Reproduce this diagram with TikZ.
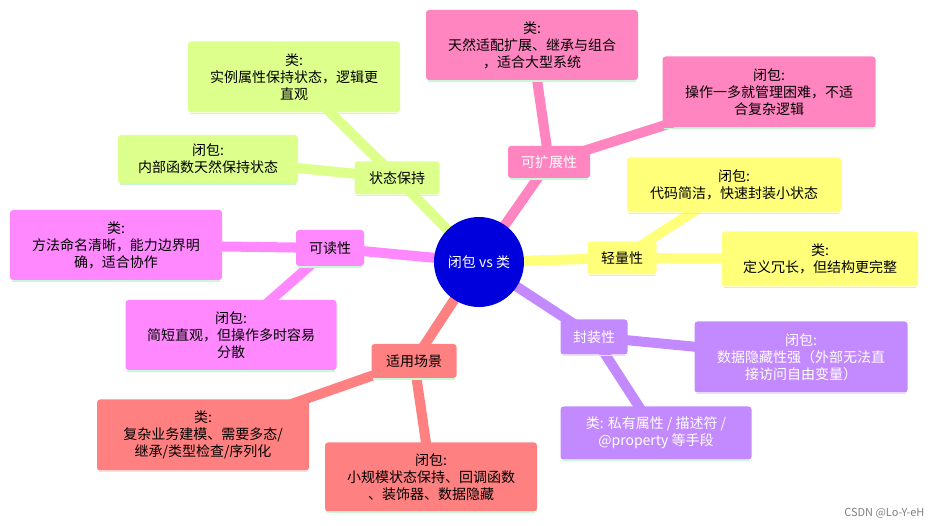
\documentclass[tikz,border=0pt]{standalone}
\usepackage{fontspec}
\setmainfont{Noto Sans CJK SC}
\usetikzlibrary{backgrounds,calc}
\definecolor{cgreen}{HTML}{DDFF8C}
\definecolor{cpink}{HTML}{FF85C0}
\definecolor{cyellow}{HTML}{FFFF7A}
\definecolor{cpurple}{HTML}{C38AFF}
\definecolor{csalmon}{HTML}{FF8080}
\definecolor{cmag}{HTML}{FF88FF}
\definecolor{cblue}{HTML}{0000DD}
\definecolor{mint}{HTML}{C8F8D8}
\tikzset{
  bx/.style={rectangle, rounded corners=3pt, align=center, inner sep=2pt,
    font=\fontsize{14}{17}\selectfont,
    append after command={(\tikzlastnode.south west) ++(2pt,-0.8pt) edge[draw=mint,line width=1.6pt] ($(\tikzlastnode.south east)+(-2pt,-0.8pt)$)}},
  lk/.style={line width=10pt},
}
\begin{document}
\begin{tikzpicture}[x=1pt,y=1pt]
\useasboundingbox (0,0) rectangle (930,-526);
\node[circle, fill=cblue, minimum size=90pt, text=white, font=\fontsize{14}{17}\selectfont] (c) at (479,-262) {闭包 vs 类};
% green
\node[bx,fill=cgreen,minimum width=85pt,minimum height=33pt] (g) at (397,-178) {状态保持};
\node[bx,fill=cgreen,minimum width=212pt,minimum height=71pt] (g1) at (294,-77) {类:\\实例属性保持状态，逻辑更\\直观};
\node[bx,fill=cgreen,minimum width=180pt,minimum height=48pt] (g2) at (208,-159) {闭包:\\内部函数天然保持状态};
% pink
\node[bx,fill=cpink,text=white,minimum width=82pt,minimum height=32pt] (p) at (549,-162) {可扩展性};
\node[bx,fill=cpink,minimum width=212pt,minimum height=70pt] (p1) at (532,-45) {类:\\天然适配扩展、继承与组合\\，适合大型系统};
\node[bx,fill=cpink,minimum width=213pt,minimum height=71pt] (p2) at (769,-92) {闭包:\\操作一多就管理困难，不适\\合复杂逻辑};
% yellow
\node[bx,fill=cyellow,minimum width=69pt,minimum height=33pt] (y) at (622,-258) {轻量性};
\node[bx,fill=cyellow,minimum width=214pt,minimum height=55pt] (y1) at (734,-185) {闭包:\\代码简洁，快速封装小状态};
\node[bx,fill=cyellow,minimum width=196pt,minimum height=55pt] (y2) at (820,-259) {类:\\定义冗长，但结构更完整};
% purple
\node[bx,fill=cpurple,text=white,minimum width=67pt,minimum height=35pt] (u) at (594,-337) {封装性};
\node[bx,fill=cpurple,text=white,minimum width=213pt,minimum height=71pt] (u1) at (801,-357) {闭包:\\数据隐藏性强（外部无法直\\接访问自由变量）};
\node[bx,fill=cpurple,text=white,minimum width=191pt,minimum height=53pt] (u2) at (656,-433) {类: 私有属性 / 描述符 /\\@property 等手段};
% salmon
\node[bx,fill=csalmon,minimum width=85pt,minimum height=34pt] (s) at (414,-361) {适用场景};
\node[bx,fill=csalmon,minimum width=212pt,minimum height=71pt] (s1) at (203,-435) {类:\\复杂业务建模、需要多态/\\继承/类型检查/序列化};
\node[bx,fill=csalmon,minimum width=212pt,minimum height=69pt] (s2) at (431,-477) {闭包:\\小规模状态保持、回调函数\\、装饰器、数据隐藏};
% magenta
\node[bx,fill=cmag,minimum width=68pt,minimum height=36pt] (m) at (330,-248) {可读性};
\node[bx,fill=cmag,minimum width=212pt,minimum height=70pt] (m1) at (116,-245) {类:\\方法命名清晰，能力边界明\\确，适合协作};
\node[bx,fill=cmag,minimum width=211pt,minimum height=70pt] (m2) at (231,-335) {闭包:\\简短直观，但操作多时容易\\分散};
\node[text=gray, font=\fontsize{11}{13}\selectfont, anchor=south east] (wm) at (928,-522) {CSDN @Lo-Y-eH};
\begin{scope}[on background layer]
\draw[lk,cgreen] (c.center) -- (g.center) (g.center) -- (g1.center) (g.center) -- (g2.center);
\draw[lk,cpink] (c.center) -- (p.center) (p.center) -- (p1.center) (p.center) -- (p2.center);
\draw[lk,cyellow] (c.center) -- (y.center) (y.center) -- (y1.center) (y.center) -- (y2.center);
\draw[lk,cpurple] (c.center) -- (u.center) (u.center) -- (u1.center) (u.center) -- (u2.center);
\draw[lk,csalmon] (c.center) -- (s.center) (s.center) -- (s1.center) (s.center) -- (s2.center);
\draw[lk,cmag] (c.center) -- (m.center) (m.center) -- (m1.center) (m.center) -- (m2.center);
\end{scope}
\end{tikzpicture}
\end{document}
